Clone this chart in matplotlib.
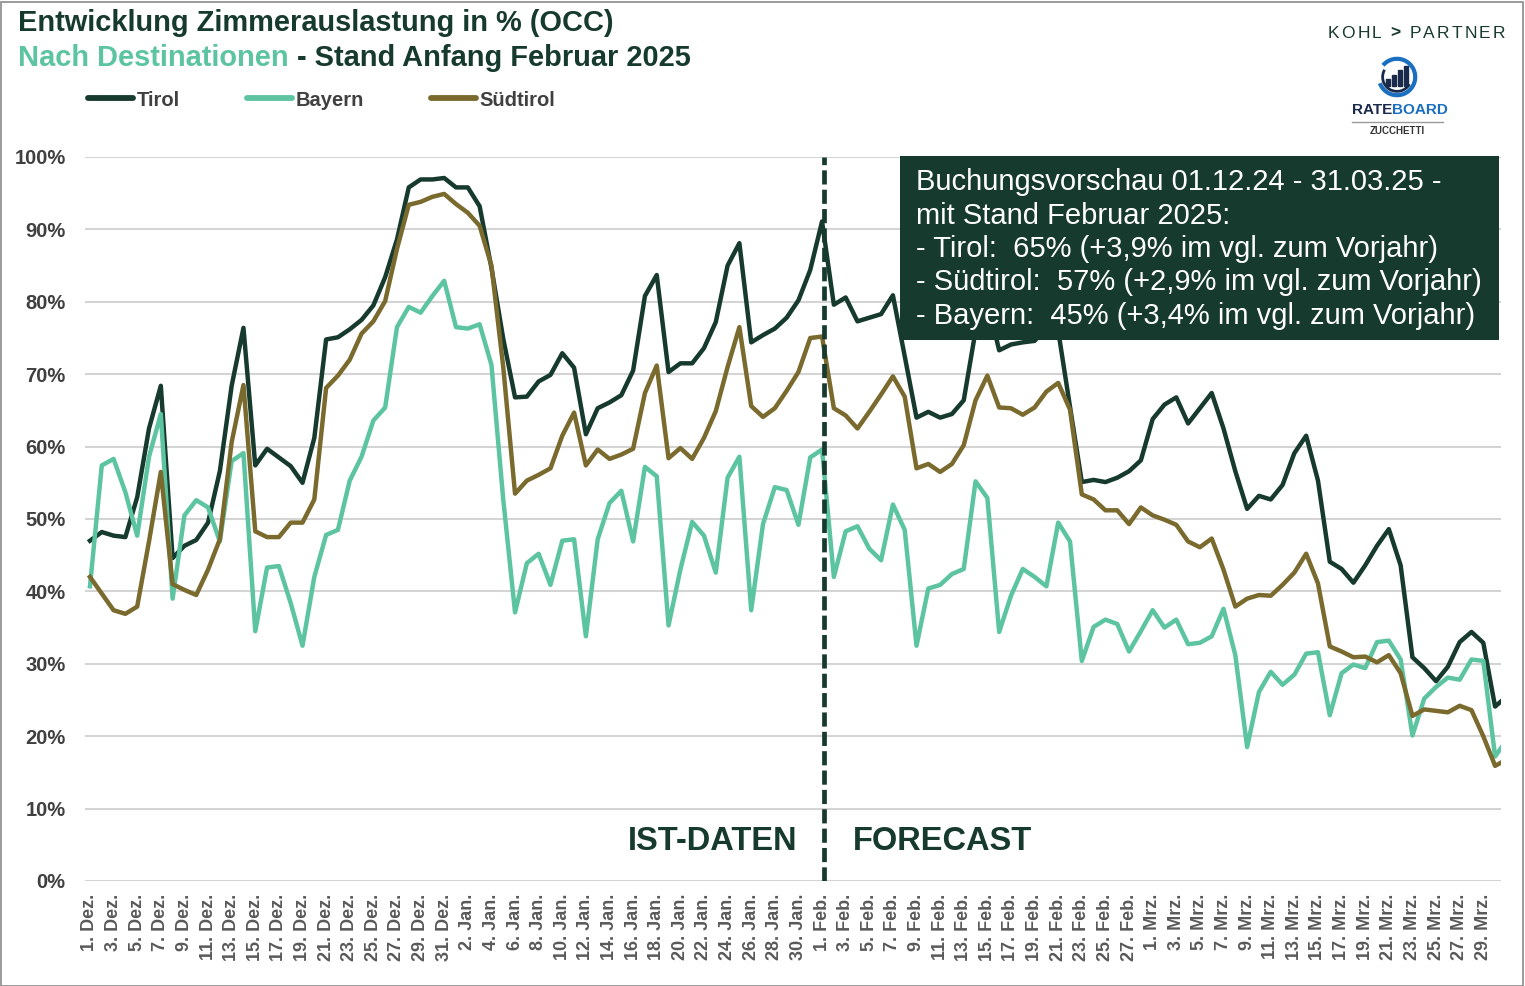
import matplotlib
matplotlib.use('Agg')
import matplotlib.pyplot as plt
import matplotlib.patches as mpatches
from matplotlib.lines import Line2D
import numpy as np
import pandas as pd

plt.rcParams['font.family'] = ['Liberation Sans', 'DejaVu Sans']

DARK = '#173a2e'
MINT = '#5cc4a0'
OLIVE = '#7a6a2e'
GRID = '#d4d4d4'
GREY = '#595959'

# Tage 1.12.2024 - 31.03.2025
tage_idx = pd.date_range('2024-12-01', '2025-03-31', freq='D')
monate = {12: 'Dez.', 1: 'Jan.', 2: 'Feb.', 3: 'Mrz.'}
tage = [f'{d.day}. {monate[d.month]}' for d in tage_idx]

tirol = [47.0, 48.2, 47.7, 47.5, 53.0, 62.5, 68.4, 44.6, 46.3, 47.1,
         49.5, 56.6, 68.4, 76.4, 57.4, 59.7, 58.5, 57.3, 55.0, 61.2,
         74.8, 75.1, 76.2, 77.5, 79.5, 83.4, 88.6, 95.8, 96.9, 96.9,
         97.1, 95.8, 95.8, 93.2, 84.7, 74.9, 66.8, 66.9, 69.0, 69.9,
         72.9, 70.9, 61.7, 65.3, 66.1, 67.1, 70.5, 80.8, 83.7, 70.3,
         71.5, 71.5, 73.6, 77.2, 85.0, 88.1, 74.4, 75.4, 76.3, 77.8,
         80.2, 84.4, 91.1, 79.6, 80.6, 77.3, 77.8, 78.3, 80.9, 72.5,
         64.0, 64.8, 64.0, 64.5, 66.4, 76.0, 80.0, 73.3, 74.1, 74.4,
         74.6, 76.5, 76.0, 65.5, 55.1, 55.4, 55.1, 55.7, 56.6, 58.1,
         63.8, 65.8, 66.8, 63.2, 65.3, 67.4, 62.5, 56.6, 51.4, 53.2,
         52.7, 54.7, 59.1, 61.5, 55.3, 44.1, 43.1, 41.2, 43.6, 46.3,
         48.6, 43.6, 30.9, 29.4, 27.6, 29.6, 33.0, 34.4, 32.9, 24.1,
         25.5]

bayern = [40.7, 57.4, 58.3, 53.7, 47.7, 58.6, 64.5, 39.0, 50.5, 52.6,
          51.6, 46.9, 58.0, 59.1, 34.5, 43.3, 43.5, 38.4, 32.5, 42.0,
          47.8, 48.5, 55.3, 58.6, 63.6, 65.4, 76.5, 79.3, 78.5, 80.8,
          82.9, 76.5, 76.3, 76.9, 71.3, 52.7, 37.1, 43.9, 45.2, 40.9,
          47.0, 47.2, 33.8, 47.2, 52.2, 53.9, 46.9, 57.2, 55.9, 35.3,
          43.0, 49.6, 47.7, 42.6, 55.7, 58.6, 37.4, 49.3, 54.4, 54.0,
          49.2, 58.5, 59.6, 42.0, 48.3, 49.0, 45.9, 44.3, 52.0, 48.5,
          32.5, 40.4, 40.9, 42.4, 43.1, 55.2, 52.9, 34.4, 39.4, 43.1,
          42.0, 40.7, 49.5, 46.9, 30.4, 35.1, 36.1, 35.5, 31.7, 34.5,
          37.4, 35.0, 36.1, 32.7, 32.9, 33.8, 37.6, 31.2, 18.5, 26.1,
          28.9, 27.1, 28.5, 31.4, 31.6, 22.9, 28.7, 29.9, 29.4, 33.0,
          33.2, 30.6, 20.1, 25.2, 26.8, 28.1, 27.8, 30.6, 30.4, 17.2,
          19.5]

suedtirol = [42.0, 39.7, 37.4, 36.9, 37.9, 46.9, 56.5, 41.0, 40.2, 39.5,
             43.0, 47.2, 60.6, 68.5, 48.3, 47.5, 47.5, 49.5, 49.5, 52.7,
             68.1, 69.8, 72.0, 75.6, 77.3, 80.1, 87.3, 93.4, 93.8, 94.5,
             94.9, 93.5, 92.3, 90.5, 85.0, 71.0, 53.5, 55.3, 56.1, 57.0,
             61.5, 64.7, 57.4, 59.6, 58.3, 58.9, 59.7, 67.4, 71.2, 58.4,
             59.8, 58.3, 61.2, 64.9, 71.0, 76.5, 65.6, 64.1, 65.3, 67.7,
             70.3, 75.0, 75.2, 65.3, 64.3, 62.5, 64.8, 67.2, 69.7, 66.9,
             57.0, 57.6, 56.5, 57.6, 60.2, 66.4, 69.8, 65.4, 65.3, 64.4,
             65.4, 67.6, 68.8, 65.1, 53.4, 52.7, 51.2, 51.2, 49.3, 51.6,
             50.5, 49.9, 49.2, 46.9, 46.1, 47.3, 43.0, 37.9, 39.0, 39.5,
             39.4, 40.9, 42.6, 45.2, 41.1, 32.4, 31.7, 30.9, 31.0, 30.2,
             31.2, 28.7, 22.8, 23.7, 23.5, 23.3, 24.2, 23.6, 20.0, 15.9,
             16.8]

box_zeilen = ['Buchungsvorschau 01.12.24 - 31.03.25 -',
              'mit Stand Februar 2025:',
              '- Tirol:  65% (+3,9% im vgl. zum Vorjahr)',
              '- Südtirol:  57% (+2,9% im vgl. zum Vorjahr)',
              '- Bayern:  45% (+3,4% im vgl. zum Vorjahr)']

W, H = 1525, 986
fig = plt.figure(figsize=(W / 100, H / 100), dpi=100)
ax = fig.add_axes([85 / W, 1 - 881 / H, (1501 - 85) / W, (881 - 157) / H])

x = np.arange(len(tage))
ax.plot(x, tirol, color=DARK, lw=3.2, zorder=3)
ax.plot(x, bayern, color=MINT, lw=3.2, zorder=3)
ax.plot(x, suedtirol, color=OLIVE, lw=3.2, zorder=3)

ax.axvline(62.15, color=DARK, lw=3.4, ls=(0, (3, 1.1)), zorder=4)

ax.set_xlim(-0.42, 119.5)
ax.set_ylim(0, 100)
ax.set_yticks(range(0, 101, 10))
ax.set_yticklabels([f'{v}%' for v in range(0, 101, 10)],
                   fontsize=14.5, fontweight='bold', color='#404040')
ax.set_xticks(x[:119:2])
ax.set_xticklabels(tage[:119:2], rotation=90, fontsize=13, fontweight='bold', color=GREY)
ax.tick_params(axis='both', length=0)
ax.tick_params(axis='y', pad=14)
ax.tick_params(axis='x', pad=9)
ax.grid(axis='y', color=GRID, lw=1.5)
ax.set_axisbelow(True)
for s in ax.spines.values():
    s.set_visible(False)

# Titel
fig.text(18 / W, 1 - 23 / H, 'Entwicklung Zimmerauslastung in % (OCC)',
         fontsize=20.9, fontweight='bold', color=DARK, va='center')
t2 = fig.text(18 / W, 1 - 58 / H, 'Nach Destinationen', fontsize=20.9,
              fontweight='bold', color=MINT, va='center')
fig.canvas.draw()
bb = t2.get_window_extent()
fig.text(bb.x1 / W, 1 - 58 / H, ' - Stand Anfang Februar 2025', fontsize=20.9,
         fontweight='bold', color=DARK, va='center')

# Legende
handles = [Line2D([], [], color=c, lw=4.2, solid_capstyle='round')
           for c in (DARK, MINT, OLIVE)]
leg = fig.legend(handles, ['Tirol', 'Bayern', 'Südtirol'], loc='center left',
                 bbox_to_anchor=(88 / W, 1 - 100 / H), ncol=3, frameon=False,
                 borderpad=0, borderaxespad=0, handlelength=2.25,
                 handletextpad=0.15, columnspacing=3.35,
                 prop={'size': 14.5, 'weight': 'bold'})
for t in leg.get_texts():
    t.set_color('#404040')

# Hinweise IST / FORECAST
fig.text(797 / W, 1 - 842 / H, 'IST-DATEN', fontsize=23.5, fontweight='bold',
         color=DARK, ha='right', va='center')
fig.text(853 / W, 1 - 842 / H, 'FORECAST', fontsize=23.5, fontweight='bold',
         color=DARK, ha='left', va='center')

# Info-Box
fig.add_artist(mpatches.Rectangle((900 / W, 1 - 340 / H), 599 / W, 184 / H,
                                  transform=fig.transFigure, facecolor=DARK,
                                  edgecolor='none', zorder=5))
for k, z in enumerate(box_zeilen):
    fig.text(916 / W, 1 - (182 + 33.5 * k) / H, z, fontsize=21, color='white',
             va='center', zorder=6)

# Logo KOHL > PARTNER (mit Sperrung)
xp = 1328
for ch in 'KOHL > PARTNER':
    t = fig.text(xp / W, 1 - 33 / H, ch, fontsize=12.5, color=DARK, va='center',
                 fontweight='bold' if ch == '>' else 'normal')
    xp += t.get_window_extent(renderer=fig.canvas.get_renderer()).width + 2.1

# Logo RATEBOARD
lax = fig.add_axes([1372 / W, 1 - 100 / H, 50 / W, 46 / H])
lax.set_xlim(-1.3, 1.3)
lax.set_ylim(-1.2, 1.2)
lax.set_aspect('equal')
lax.axis('off')
lax.add_patch(mpatches.Arc((0, 0), 1.9, 1.9, theta1=200, theta2=500,
                           color='#1a6fc0', lw=3))
lax.add_patch(mpatches.Arc((0, 0), 1.5, 1.5, theta1=150, theta2=330,
                           color='#1a2a4a', lw=2))
for i, hb in enumerate([0.35, 0.55, 0.8, 1.0]):
    lax.add_patch(mpatches.Rectangle((-0.55 + i * 0.3, -0.45), 0.2, hb,
                                     color='#1a2a4a'))
tr = fig.text(1352 / W, 1 - 110 / H, 'RATE', fontsize=11, fontweight='bold',
              color='#1a2a4a', va='center')
bb = tr.get_window_extent(renderer=fig.canvas.get_renderer())
fig.text(bb.x1 / W, 1 - 110 / H, 'BOARD', fontsize=11, fontweight='bold',
         color='#1a6fc0', va='center')
fig.add_artist(Line2D([1352 / W, 1443 / W], [1 - 122 / H, 1 - 122 / H],
                      transform=fig.transFigure, color='#9a9a9a', lw=1))
fig.text(1397 / W, 1 - 131 / H, 'ZUCCHETTI', fontsize=7, fontweight='bold',
         color='#333333', ha='center', va='center')

# Rahmen
fig.add_artist(mpatches.Rectangle((0.5 / W, 0.5 / H), 1 - 3 / W, 1 - 2 / H,
                                  transform=fig.transFigure, fill=False,
                                  edgecolor='#8a8a8a', lw=1.2))

fig.savefig('out.png', dpi=100)
